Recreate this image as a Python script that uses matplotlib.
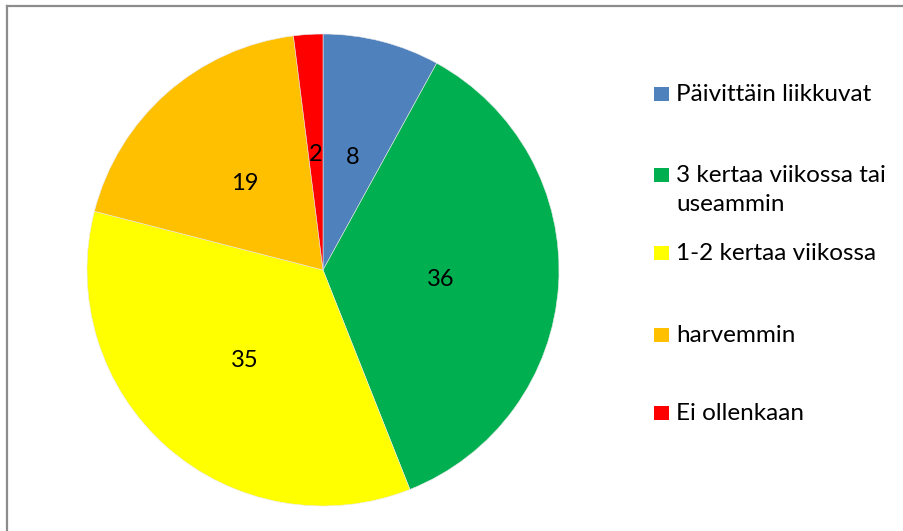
import matplotlib.pyplot as plt
from matplotlib.patches import Rectangle
from matplotlib.lines import Line2D

labels = ['Päivittäin liikkuvat', '3 kertaa viikossa tai\nuseammin',
          '1-2 kertaa viikossa', 'harvemmin', 'Ei ollenkaan']
values = [8, 36, 35, 19, 2]
colors = ['#4F81BD', '#00B050', '#FFFF00', '#FFC000', '#FF0000']

plt.rcParams['font.family'] = ['Lato', 'DejaVu Sans']

W, H = 904, 531
fig = plt.figure(figsize=(W / 100, H / 100), dpi=100)

# outer frame: only left and top edges are visible in the original
fx, fy = 6.7 / W, 1 - 5.7 / H
fig.add_artist(Line2D([fx, fx], [0, fy], transform=fig.transFigure,
                      color='#8c8c8c', linewidth=1.6))
fig.add_artist(Line2D([fx, 1], [fy, fy], transform=fig.transFigure,
                      color='#8c8c8c', linewidth=1.6))

cx, cy, r = 323, 270, 236
ax = fig.add_axes([(cx - r) / W, (H - cy - r) / H, 2 * r / W, 2 * r / H])
ax.pie(values, colors=colors, startangle=90, counterclock=False,
       labels=[str(v) for v in values], labeldistance=0.5,
       wedgeprops=dict(linewidth=0.4, edgecolor='#e8e8e8'),
       textprops=dict(fontsize=17, color='black'))
for t in ax.texts:
    t.set_horizontalalignment('center')
    t.set_verticalalignment('center_baseline')
ax.set_aspect('equal')
ax.set_xlim(-1, 1)
ax.set_ylim(-1, 1)
ax.axis('off')

# legend
box_y = [94, 175, 253, 335, 413]
for lab, col, y in zip(labels, colors, box_y):
    fig.patches.append(Rectangle((654 / W, 1 - (y + 7) / H), 15 / W, 14 / H,
                                 transform=fig.transFigure, facecolor=col,
                                 edgecolor='none'))
    fig.text(676 / W, 1 - (y - 10) / H, lab, fontsize=17.5, va='top',
             ha='left', linespacing=1.45)

fig.savefig('out.png', dpi=100)
